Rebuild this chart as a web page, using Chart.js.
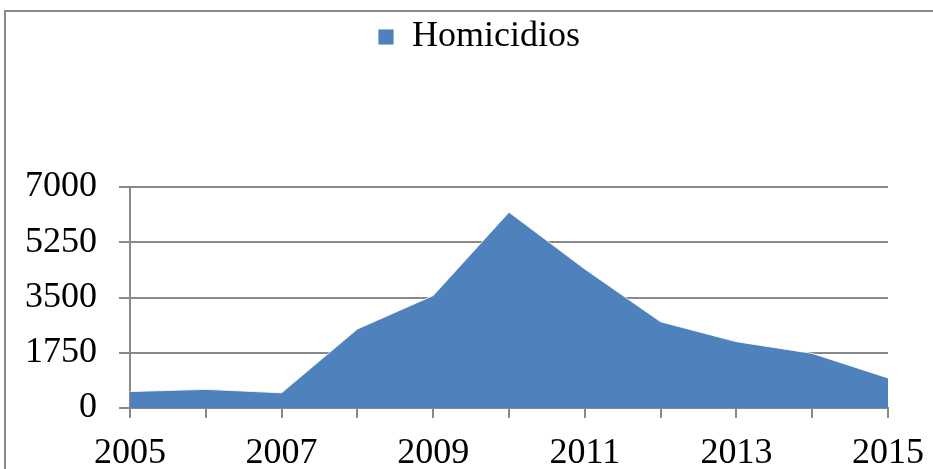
<!DOCTYPE html>
<html>
<head>
<meta charset="utf-8">
<script src="https://cdn.jsdelivr.net/npm/chart.js@4/dist/chart.umd.min.js"></script>
<style>
  body { margin: 0; background: #fff; overflow: hidden; }
  #frame { position: absolute; left: 4px; top: 10px; width: 1000px; height: 1000px; border: 2px solid #898989; }
  #grafico { position: absolute; left: 0; top: 0; }
</style>
</head>
<body>
<div id="frame"></div>
<canvas id="grafico" width="933" height="469"></canvas>
<script>
var anios = ['2005', '2006', '2007', '2008', '2009', '2010', '2011', '2012', '2013', '2014', '2015'];
var homicidios = [520, 590, 480, 2500, 3560, 6200, 4400, 2730, 2100, 1730, 950];
var ticksY = [0, 1750, 3500, 5250, 7000];

var gris = '#898989';
var fuente = { family: "'Liberation Serif', 'Times New Roman', serif", size: 36 };

// alto fijo de la leyenda (hueco de arriba) y un poco corrida a la derecha
var ajusteLeyenda = {
    id: 'ajusteLeyenda',
    beforeInit: function(chart){
        var leyenda = chart.legend;
        var fit = leyenda.fit;
        leyenda.fit = function(){
            fit.bind(leyenda)();
            this.height = 187;
        }
        var draw = leyenda.draw;
        leyenda.draw = function(){
            chart.ctx.save();
            chart.ctx.translate(35, 0);
            draw.apply(leyenda, arguments);
            chart.ctx.restore();
        }
    }
}

var ctx = document.getElementById('grafico');
var chart = new Chart(ctx, {
    type: 'line',
    data: {
        labels: anios,
        datasets: [{
            label: 'Homicidios',
            data: homicidios,
            fill: 'origin',
            backgroundColor: '#4F81BD',
            borderColor: 'rgba(255,255,255,0.85)',
            borderWidth: 1,
            pointRadius: 0,
            tension: 0
        }]
    },
    options: {
        responsive: false,
        animation: false,
        layout: { padding: { left: 0, right: 45, top: 0, bottom: 0 } },
        plugins: {
            tooltip: { enabled: false },
            legend: {
                position: 'top',
                labels: {
                    color: '#000',
                    font: fuente,
                    boxWidth: 16,
                    boxHeight: 16,
                    padding: 19
                }
            }
        },
        scales: {
            x: {
                offset: false,
                afterFit: function(scale){
                    scale.height = 61;
                    scale.paddingLeft = 0;
                    scale.paddingRight = 0;
                },
                grid: { drawOnChartArea: false, drawTicks: true, tickLength: 10, color: gris, lineWidth: 2 },
                border: { display: true, color: gris, width: 2 },
                ticks: {
                    autoSkip: false,
                    maxRotation: 0,
                    color: '#000',
                    font: fuente,
                    padding: 14,
                    callback: function(v, i){ return i % 2 === 0 ? anios[i] : ''; }
                }
            },
            y: {
                min: 0,
                max: 7000,
                afterFit: function(scale){ scale.width = 130; },
                afterBuildTicks: function(scale){
                    scale.ticks = ticksY.map(function(v){ return { value: v }; });
                },
                grid: { color: gris, lineWidth: 2, tickLength: 11 },
                border: { display: true, color: gris, width: 2 },
                ticks: {
                    color: '#000',
                    font: fuente,
                    padding: 22,
                    callback: function(v){ return String(v); }
                }
            }
        }
    },
    plugins: [ajusteLeyenda]
});
</script>
</body>
</html>
